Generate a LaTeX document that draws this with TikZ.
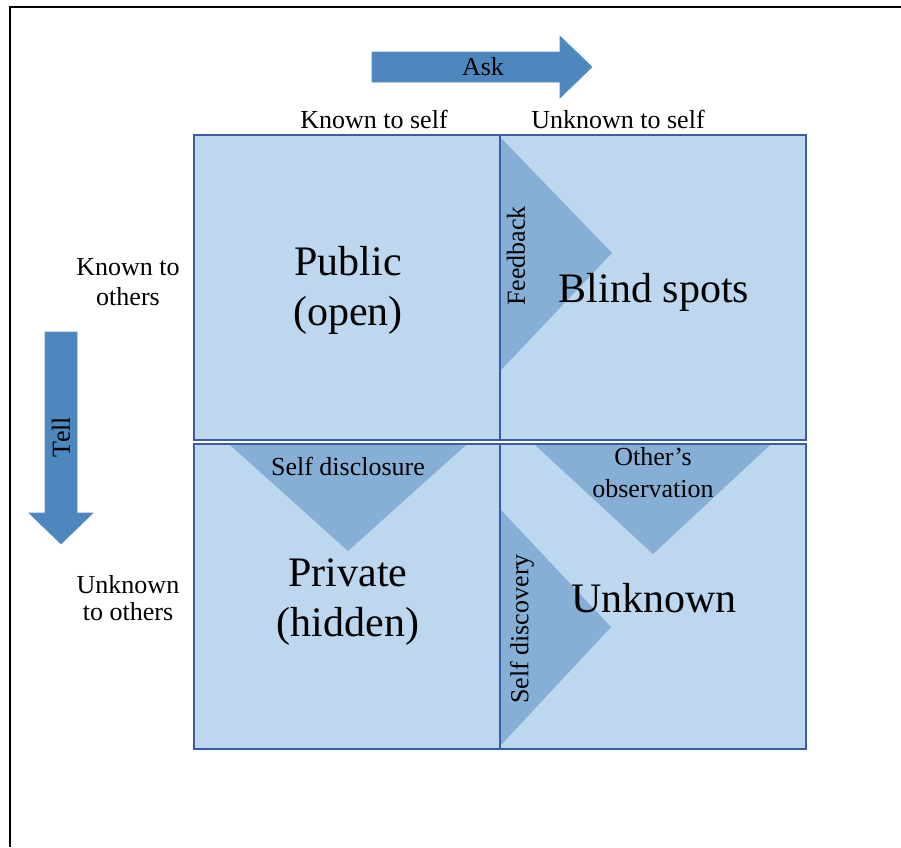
\documentclass[tikz,border=0pt]{standalone}
\usepackage{fontspec}
\setmainfont{Liberation Serif}
\definecolor{boxfill}{HTML}{BDD7EE}
\definecolor{boxline}{HTML}{3A5DA5}
\definecolor{trifill}{HTML}{86AFD6}
\definecolor{arrowfill}{HTML}{4E86BE}
\definecolor{arrowline}{HTML}{5A8FC4}
\begin{document}
\begin{tikzpicture}[x=1pt,y=-1pt,
  quad/.style={draw=boxline,line width=1.8pt,fill=boxfill,minimum width=306pt,minimum height=305pt,inner sep=0pt},
  quadline/.style={draw=boxline,line width=1.8pt,fill=none,minimum width=306pt,minimum height=305pt,inner sep=0pt},
  tri/.style={fill=trifill,draw=none},
  bigarrow/.style={fill=arrowfill,draw=arrowline,line width=0.6pt},
  small/.style={font=\fontsize{26}{30}\selectfont,align=center,inner sep=0pt},
  big/.style={font=\fontsize{42}{50}\selectfont,align=center,inner sep=0pt}]
\useasboundingbox (0,0) rectangle (901,847);
\fill[white] (0,0) rectangle (901,847);
% frame
\draw[line width=2pt,black] (10,847) -- (10,7) -- (901,7);
% quadrants
\node[quad] (q1) at (347,287.5) {};
\node[quad] (q2) at (653,287.5) {};
\node[quad] (q3) at (347,596.5) {};
\node[quad] (q4) at (653,596.5) {};
% triangles
\fill[tri] (501,138) -- (612,253) -- (501,370) -- cycle;
\fill[tri] (230,445) -- (466,445) -- (348,551) -- cycle;
\fill[tri] (535,445) -- (770,445) -- (653,554) -- cycle;
\fill[tri] (501,510) -- (611,627) -- (501,745) -- cycle;
% borders on top
\node[quadline] (b1) at (q1) {};
\node[quadline] (b2) at (q2) {};
\node[quadline] (b3) at (q3) {};
\node[quadline] (b4) at (q4) {};
% arrows
\draw[bigarrow] (372,52) -- (560,52) -- (560,36) -- (592,67) -- (560,98) -- (560,82) -- (372,82) -- cycle;
\draw[bigarrow] (45,332) -- (77,332) -- (77,513) -- (93,513) -- (61,544) -- (29,513) -- (45,513) -- cycle;
\node[small,anchor=base] (ask) at (483,75) {Ask};
\node[small,rotate=90] (tell) at (61,437) {Tell};
% headings
\node[small,anchor=base] (kself) at (374,128) {Known to self};
\node[small,anchor=base] (uself) at (618,128) {Unknown to self};
\node[small,anchor=base] (kothers) at (128,305) {Known to\\others};
\node[small,anchor=base,font=\fontsize{26}{27}\selectfont] (uothers) at (128,620) {Unknown\\to others};
% quadrant titles
\node[big,anchor=base] (public) at (348,325) {Public\\(open)};
\node[big,anchor=base] (blind) at (654,302) {Blind spots};
\node[big,anchor=base] (private) at (348,636) {Private\\(hidden)};
\node[big,anchor=base] (unknown) at (654,612) {Unknown};
% triangle labels
\node[small,rotate=90] (feedback) at (516,256) {Feedback};
\node[small,anchor=base] (disclosure) at (348,475) {Self disclosure};
\node[small,anchor=base,font=\fontsize{26}{32}\selectfont] (observation) at (653,497) {Other's\\observation};
\node[small,rotate=90] (discovery) at (522,629) {Self discovery};
\end{tikzpicture}
\end{document}
